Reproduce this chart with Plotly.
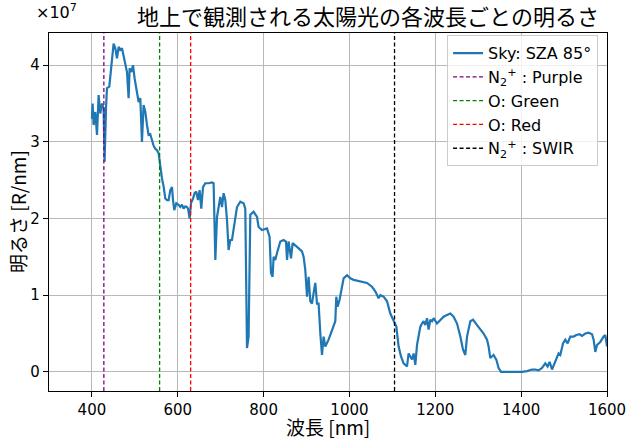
import plotly.graph_objects as go

# Spectrum (wavelength in nm, brightness in units of 1e7 R/nm)
wavelength = [400, 401.6, 403.9, 407.9, 411.8, 415.6, 419.5, 423.5, 427.2, 429.5, 432.8, 435.1,
              440.5, 442.8, 446.8, 450.5, 454.5, 458.4, 462.2, 466.1, 470.1, 473.8, 477.8, 481.7,
              485.5, 487.8, 491.8, 495.7, 499.4, 505.0, 508.8, 512.7, 516.6, 520.4, 524.4, 528.3,
              532.0, 536.0, 540.0, 543.7, 547.6, 551.6, 555.4, 559.3, 563.3, 567.0, 571.0, 574.9,
              578.7, 582.6, 586.6, 588.9, 591.9, 596.6, 601.9, 605.9, 609.8, 613.6, 617.6, 621.5,
              623.9, 627.6, 630.8, 635.5, 639.2, 643.2, 647.1, 650.9, 654.8, 658.8, 664.1, 671.8,
              679.7, 683.5, 687.5, 691.4, 699.1, 703.1, 706.8, 710.8, 714.7, 718.4, 722.4, 726.3,
              730.1, 734.0, 738.0, 745.7, 753.4, 757.3, 761.3, 765.0, 769.0, 776.7, 784.6, 788.3,
              796.2, 807.9, 813.9, 817.2, 820.9, 823.3, 827.2, 831.2, 838.9, 846.6, 852.2, 854.5,
              858.2, 863.8, 867.6, 877.8, 889.4, 893.2, 897.1, 901.1, 904.8, 908.8, 912.7, 916.5,
              920.4, 924.4, 928.1, 932.1, 936.0, 939.8, 943.7, 951.4, 959.3, 967.0, 969.3, 972.4,
              977.0, 982.6, 986.4, 994.3, 1002.0, 1009.7, 1025.3, 1040.9, 1052.5, 1060.2, 1067.9,
              1071.9, 1079.6, 1087.5, 1095.2, 1102.9, 1109.2, 1114.5, 1120.1, 1126.2, 1134.1,
              1137.8, 1141.8, 1145.7, 1149.5, 1153.4, 1157.4, 1161.1, 1165.1, 1169.0, 1172.8,
              1176.7, 1180.7, 1184.4, 1188.4, 1192.3, 1196.1, 1203.9, 1211.6, 1219.3, 1227.3,
              1235.0, 1242.6, 1250.6, 1258.3, 1264.6, 1269.9, 1273.9, 1281.6, 1287.9, 1297.2,
              1304.9, 1312.5, 1320.5, 1324.2, 1328.1, 1335.8, 1342.1, 1347.5, 1353.1, 1402.0,
              1413.6, 1425.3, 1433.0, 1440.6, 1448.6, 1456.3, 1461.6, 1466.3, 1471.9, 1479.6,
              1487.3, 1491.2, 1497.5, 1502.9, 1508.2, 1514.5, 1522.2, 1528.5, 1536.2, 1541.7,
              1549.5, 1557.2, 1565.1, 1568.8, 1572.8, 1576.7, 1584.4, 1592.1, 1596.1, 1600]

brightness_e7 = [3.30, 3.50, 3.22, 3.39, 3.09, 3.61, 3.37, 3.50, 3.44, 2.74, 3.44, 3.70,
                 3.72, 3.87, 4.07, 4.28, 4.22, 4.09, 4.24, 4.20, 4.22, 4.13, 4.00, 3.91,
                 3.57, 3.96, 3.91, 4.00, 3.83, 3.61, 3.52, 3.57, 3.00, 3.48, 3.39, 3.22,
                 3.09, 3.10, 3.00, 2.95, 2.91, 2.89, 2.85, 2.65, 2.52, 2.42, 2.26, 2.24,
                 2.24, 2.37, 2.41, 2.24, 2.11, 2.20, 2.18, 2.15, 2.18, 2.13, 2.16, 2.15,
                 2.13, 2.00, 2.20, 2.26, 2.33, 2.35, 2.24, 2.37, 2.13, 2.41, 2.46, 2.46,
                 2.47, 2.46, 1.46, 2.02, 2.28, 2.15, 2.33, 2.24, 1.98, 1.59, 1.72, 1.72,
                 1.85, 2.02, 2.15, 2.22, 2.20, 2.13, 0.31, 0.46, 2.05, 2.09, 2.02, 1.89,
                 1.85, 1.87, 1.76, 1.29, 1.24, 1.50, 1.46, 1.55, 1.70, 1.72, 1.70, 1.46,
                 1.70, 1.48, 1.68, 1.63, 1.57, 1.50, 1.33, 0.98, 1.24, 0.92, 0.89, 1.03,
                 1.16, 0.89, 0.89, 0.50, 0.22, 0.46, 0.33, 0.42, 0.53, 0.66, 0.98, 0.85,
                 0.94, 1.11, 1.22, 1.26, 1.22, 1.20, 1.18, 1.16, 1.11, 1.05, 0.96,
                 1.00, 0.98, 0.92, 0.76, 0.66, 0.59, 0.33, 0.20, 0.11, 0.07,
                 0.24, 0.20, 0.16, 0.24, 0.09, 0.35, 0.46, 0.59, 0.63, 0.66,
                 0.61, 0.70, 0.55, 0.68, 0.66, 0.70, 0.63, 0.68, 0.72, 0.74,
                 0.76, 0.72, 0.63, 0.46, 0.29, 0.22, 0.46, 0.66, 0.68, 0.61,
                 0.55, 0.50, 0.42, 0.33, 0.18, 0.22, 0.16, 0.05, 0.00, 0.00,
                 0.01, 0.03, 0.03, 0.02, 0.05, 0.11, 0.07, 0.13, 0.03, 0.13,
                 0.24, 0.22, 0.37, 0.42, 0.37, 0.46, 0.46, 0.48, 0.49, 0.47,
                 0.50, 0.51, 0.49, 0.42, 0.26, 0.35, 0.39, 0.46, 0.48, 0.33]

scale = 1e7
brightness = [v * scale for v in brightness_e7]

# Emission lines
line_names = ["N<sub>2</sub><sup>+</sup> : Purple", "O: Green", "O: Red", "N<sub>2</sub><sup>+</sup> : SWIR"]
line_wavelengths = [427.8, 557.7, 630.0, 1105.0]
line_colors = ["#800080", "#008000", "#ff0000", "#000000"]

x_range = [300, 1600]
y_range_e7 = [-0.25, 4.42]
y_range = [v * scale for v in y_range_e7]
x_ticks = [400, 600, 800, 1000, 1200, 1400, 1600]
y_ticks_e7 = [0, 1, 2, 3, 4]

fig = go.Figure()
fig.add_trace(go.Scatter(x=wavelength, y=brightness, mode="lines",
                         line=dict(color="#1f77b4", width=2.2),
                         name="Sky: SZA 85°"))
for nm, wl, col in zip(line_names, line_wavelengths, line_colors):
    fig.add_trace(go.Scatter(x=[wl, wl], y=y_range, mode="lines",
                             line=dict(color=col, width=1.3, dash="4px,2.5px"),
                             name=nm))

latin = "DejaVu Sans, Noto Sans CJK JP"
cjk = "Noto Sans CJK JP, DejaVu Sans"

fig.update_layout(
    width=630, height=440,
    margin=dict(l=49, r=23, t=33, b=49, autoexpand=False),
    paper_bgcolor="white", plot_bgcolor="white",
    font=dict(family=latin, size=15, color="black"),
    showlegend=True,
    legend=dict(x=0.984, y=0.994, xanchor="right", yanchor="top",
                bgcolor="rgba(255,255,255,0.8)", bordercolor="#cccccc", borderwidth=1,
                font=dict(family=latin, size=16), tracegroupgap=0,
                entrywidth=118, entrywidthmode="pixels"),
    title=dict(text="地上で観測される太陽光の各波長ごとの明るさ",
               font=dict(family=cjk, size=22, color="black"),
               x=368 / 630, xanchor="center",
               y=1 - 17 / 440, yanchor="middle"),
    annotations=[
        dict(text="×10<sup>7</sup>", xref="paper", yref="paper",
             x=-0.026, y=1.06, xanchor="left", yanchor="middle",
             showarrow=False, font=dict(family=latin, size=16)),
        dict(text="波長 [nm]", xref="paper", yref="paper",
             x=0.5, y=(391 - 426) / 358, xanchor="center", yanchor="middle",
             showarrow=False, font=dict(family=cjk, size=19)),
        dict(text="明るさ [R/nm]", xref="paper", yref="paper", textangle=-90,
             x=(17 - 49) / 558, y=0.5, xanchor="center", yanchor="middle",
             showarrow=False, font=dict(family=cjk, size=19)),
    ],
)
fig.update_xaxes(range=x_range, tickvals=x_ticks, ticks="outside", ticklen=5,
                 tickcolor="black", showline=True, linecolor="black", linewidth=1.2,
                 mirror=True, showgrid=True, gridcolor="#b8b8b8", gridwidth=1,
                 zeroline=False, tickfont=dict(size=15), automargin=False)
fig.update_yaxes(range=y_range, tickvals=[v * scale for v in y_ticks_e7],
                 ticktext=[str(v) for v in y_ticks_e7], ticks="outside", ticklen=5,
                 tickcolor="black", showline=True, linecolor="black", linewidth=1.2,
                 mirror=True, showgrid=True, gridcolor="#b8b8b8", gridwidth=1,
                 zeroline=False, tickfont=dict(size=15), automargin=False)

fig.write_html("out.html")
